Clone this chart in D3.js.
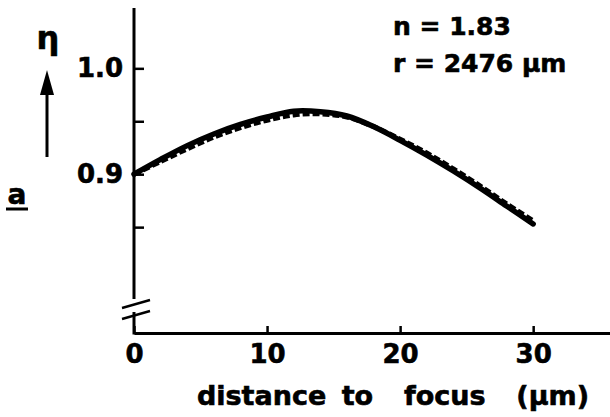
<!DOCTYPE html>
<html>
<head>
<meta charset="utf-8">
<script src="https://cdn.jsdelivr.net/npm/d3@7"></script>
<style>
  body { margin: 0; background: #fff; }
  svg text { font-family: "DejaVu Sans", "Liberation Sans", sans-serif; font-weight: bold; fill: #000;
             stroke: #000; stroke-width: 0.6px; }
</style>
</head>
<body>
<svg id="chart" width="610" height="417"></svg>
<script>
// distance to focus (um)
var distance = [0, 2, 4, 6, 8, 10, 12, 14, 16, 18, 20, 22, 24, 26, 28, 30];
// efficiency, solid and dashed curves
var etaSolid  = [0.900, 0.914, 0.927, 0.938, 0.947, 0.954, 0.9595, 0.959, 0.955, 0.945, 0.932, 0.918, 0.903, 0.887, 0.870, 0.853];
var etaDashed = [0.900, 0.912, 0.924, 0.935, 0.944, 0.951, 0.956, 0.957, 0.954, 0.945, 0.933, 0.920, 0.905, 0.889, 0.872, 0.856];
var xTicks = [0, 10, 20, 30];
var yTicks = [0.85, 0.9, 0.95, 1.0];
var yLabels = [0.9, 1.0];
var notes = ["n = 1.83", "r = 2476 µm"];

var svg = d3.select("#chart");

var x = d3.scaleLinear().domain([0, 36]).range([134, 613]);
var y = d3.scaleLinear().domain([0.75, 1.057]).range([333, 8]);

// x axis
var xAxis = svg.append("g")
    .attr("transform", "translate(0," + y(0.75) + ")")
    .call(d3.axisBottom(x).tickValues(xTicks).tickSize(-7).tickSizeOuter(0).tickPadding(12));
xAxis.select(".domain").attr("stroke-width", 3);
xAxis.selectAll(".tick line").attr("stroke-width", 2.5);
xAxis.selectAll(".tick text").style("font-size", "26px").attr("dy", "0.71em");

// y axis, drawn without its domain so the break can be shown
var yAxis = svg.append("g")
    .attr("transform", "translate(" + x(0) + ",0)")
    .call(d3.axisLeft(y).tickValues(yTicks).tickSize(-10).tickPadding(11)
        .tickFormat(function(d) { return yLabels.indexOf(d) >= 0 ? d3.format(".1f")(d) : ""; }));
yAxis.select(".domain").remove();
yAxis.selectAll(".tick line").attr("stroke-width", 2.5);
yAxis.selectAll(".tick text").style("font-size", "26px");

var x0 = x(0), yBase = y(0.75);
svg.append("line").attr("x1", x0).attr("x2", x0).attr("y1", y(1.057)).attr("y2", yBase - 34)
    .attr("stroke", "#000").attr("stroke-width", 3);
svg.append("line").attr("x1", x0).attr("x2", x0).attr("y1", yBase - 21).attr("y2", yBase + 1.5)
    .attr("stroke", "#000").attr("stroke-width", 3);
// break marks
[-29, -18].forEach(function(o) {
    svg.append("line")
        .attr("x1", x0 - 12).attr("y1", yBase + o + 4)
        .attr("x2", x0 + 16).attr("y2", yBase + o - 4)
        .attr("stroke", "#000").attr("stroke-width", 2.5);
});

// curves
var line = d3.line()
    .x(function(d) { return x(d[0]); })
    .y(function(d) { return y(d[1]); })
    .curve(d3.curveCatmullRom);

svg.append("path")
    .datum(d3.zip(distance, etaDashed))
    .attr("d", line)
    .attr("fill", "none").attr("stroke", "#000")
    .attr("stroke-width", 5).attr("stroke-dasharray", "7,3");

svg.append("path")
    .datum(d3.zip(distance, etaSolid))
    .attr("d", line)
    .attr("fill", "none").attr("stroke", "#000")
    .attr("stroke-width", 5.5).attr("stroke-linecap", "round");

// axis labels
svg.append("text").attr("x", 393).attr("y", 405).attr("text-anchor", "middle")
    .style("font-size", "27px").attr("xml:space", "preserve")
    .style("word-spacing", "6px")
    .text("distance to  focus  (µm)");

svg.append("text").attr("x", 48).attr("y", 49).attr("text-anchor", "middle")
    .style("font-size", "32px").text("η");

// arrow
svg.append("line").attr("x1", 47).attr("x2", 47).attr("y1", 157).attr("y2", 92)
    .attr("stroke", "#000").attr("stroke-width", 3);
svg.append("path").attr("d", "M47,70L40,95L54,95Z").attr("fill", "#000");

// panel mark
svg.append("text").attr("x", 17).attr("y", 204).attr("text-anchor", "middle")
    .style("font-size", "28px").text("a");
svg.append("line").attr("x1", 6).attr("x2", 28).attr("y1", 209).attr("y2", 209)
    .attr("stroke", "#000").attr("stroke-width", 3);

// parameters
svg.selectAll("text.note")
    .data(notes)
    .enter().append("text")
    .attr("class", "note")
    .attr("x", 393)
    .attr("y", function(d, i) { return 35 + i * 37; })
    .style("font-size", "25px")
    .attr("xml:space", "preserve")
    .text(function(d) { return d; });
</script>
</body>
</html>
